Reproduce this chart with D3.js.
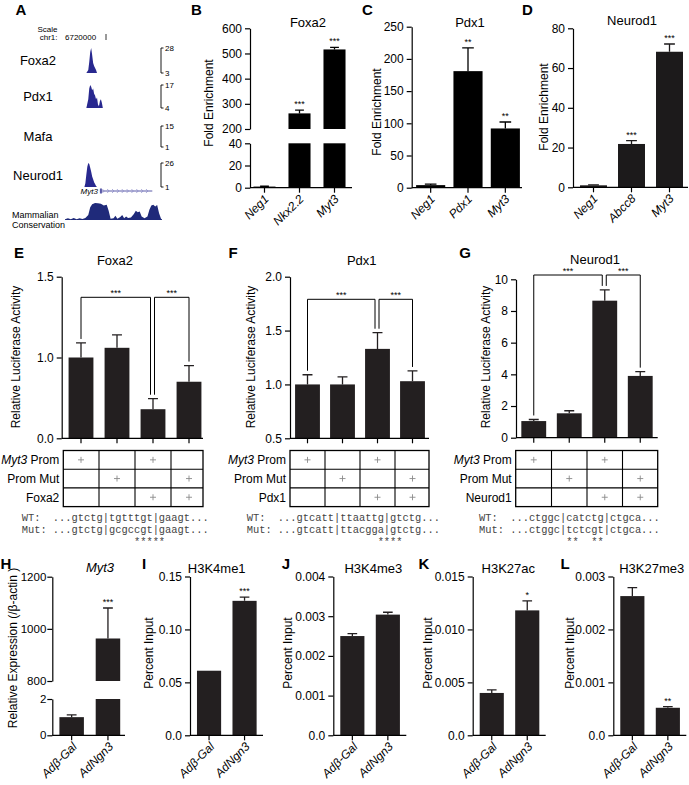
<!DOCTYPE html>
<html>
<head>
<meta charset="utf-8">
<script src="https://cdnjs.cloudflare.com/ajax/libs/d3/7.8.5/d3.min.js"></script>
<style>
  body { margin: 0; background: #fff; }
  svg { font-family: Arial, 'Liberation Sans', Helvetica, sans-serif; }
  .seq { font-family: 'Liberation Mono', 'DejaVu Sans Mono', monospace; white-space: pre; }
</style>
</head>
<body>
<svg id="fig" width="689" height="785"></svg>
<script>
// ---- A: browser tracks (position, signal) ----
const trackNames = ['Foxa2', 'Pdx1', 'Mafa', 'Neurod1'];
const trackRange = [[3, 28], [4, 17], [1, 15], [1, 26]];
const foxa2Signal = [[22, 3], [24, 6], [25, 14], [26, 24], [27, 28], [28, 21], [29, 13], [30, 10], [31, 8], [32, 6], [33, 3]];
const pdx1Signal = [[22, 4], [24, 9], [25, 15], [26, 17], [27, 16], [28, 14], [29, 15], [30, 12], [31, 11], [32, 9], [33, 10],
  [34, 6], [35, 5], [36, 8], [37, 9], [38, 7], [39, 4]];
const mafaSignal = [];
const neurod1Signal = [[20, 1], [21, 5], [22, 14], [23, 22], [24, 26], [25, 25], [26, 21], [27, 17], [28, 12], [29, 9],
  [30, 6], [31, 4], [32, 2], [33, 1]];
const conservation = [[0, 0.05], [3, 0.1], [6, 0.05], [9, 0.12], [12, 0.04], [15, 0.1], [18, 0.06], [21, 0.12], [24, 0.3],
  [26, 0.75], [28, 0.92], [31, 1.0], [34, 0.98], [37, 0.95], [40, 0.85], [43, 0.9], [45, 0.55], [47, 0.08], [50, 0.1],
  [52, 0.25], [54, 0.08], [57, 0.18], [59, 0.3], [61, 0.1], [63, 0.2], [65, 0.12], [68, 0.15], [71, 0.35], [73, 0.55],
  [75, 0.45], [77, 0.5], [79, 0.2], [82, 0.1], [85, 0.2], [87, 0.6], [89, 0.85], [91, 0.9], [93, 0.8], [95, 0.88],
  [97, 0.4], [99, 0.08], [100, 0.05]];
const myt3Gene = [36, 90];

// ---- B-D: ChIP enrichment ----
const foxa2ChipSites = ['Neg1', 'Nkx2.2', 'Myt3'];
const foxa2ChipFold = [1, 262, 516];
const foxa2ChipSem = [0.3, 13, 8];
const foxa2ChipSig = ['', '***', '***'];
const foxa2ChipTicksLow = [0, 20, 40];
const foxa2ChipTicksHigh = [200, 300, 400, 500, 600];

const pdx1ChipSites = ['Neg1', 'Pdx1', 'Myt3'];
const pdx1ChipFold = [4, 181, 92];
const pdx1ChipSem = [1.5, 36, 10];
const pdx1ChipSig = ['', '**', '**'];
const pdx1ChipTicks = [0, 50, 100, 150, 200, 250];

const neurod1ChipSites = ['Neg1', 'Abcc8', 'Myt3'];
const neurod1ChipFold = [1, 21.8, 68.2];
const neurod1ChipSem = [0.2, 1.7, 3.9];
const neurod1ChipSig = ['', '***', '***'];
const neurod1ChipTicks = [0, 20, 40, 60, 80];

// ---- E-G: luciferase ----
const lucGroups = ['WT', 'Mut', 'WT+TF', 'Mut+TF'];
const lucPromWT = [1, 0, 1, 0];
const lucPromMut = [0, 1, 0, 1];
const lucFactor = [0, 0, 1, 1];
const lucSigPairs = [[0, 2], [2, 3]];
const lucSigLabels = ['***', '***'];

const foxa2Luc = [1.0, 1.06, 0.68, 0.85];
const foxa2LucSem = [0.09, 0.08, 0.065, 0.10];
const foxa2LucTicks = [0.5, 1.0, 1.5];
const foxa2LucTickLabels = ['0.0', '1.0', '1.5'];
const foxa2Seq = ['WT:  ...gtctg|tgtttgt|gaagt...', 'Mut: ...gtctg|gcgccgt|gaagt...', '                  *****'];

const pdx1Luc = [1.0, 1.0, 1.33, 1.03];
const pdx1LucSem = [0.09, 0.07, 0.15, 0.095];
const pdx1LucTicks = [0.5, 1.0, 1.5, 2.0];
const pdx1LucTickLabels = ['0.5', '1.0', '1.5', '2.0'];
const pdx1Seq = ['WT:  ...gtcatt|ttaattg|gtctg...', 'Mut: ...gtcatt|ttacgga|gtctg...', '                     ****'];

const neurod1Luc = [1.05, 1.54, 8.65, 3.9];
const neurod1LucSem = [0.1, 0.16, 0.68, 0.27];
const neurod1LucTicks = [0, 2, 4, 6, 8, 10];
const neurod1LucTickLabels = ['0', '2', '4', '6', '8', '10'];
const neurod1Seq = ['WT:  ...ctggc|catctg|ctgca...', 'Mut: ...ctggc|tctcgt|ctgca...', '              **  **'];

// ---- H-L: AdNgn3 vs Adβ-Gal ----
const adGroups = ['Adβ-Gal', 'AdNgn3'];
const myt3Expr = [1.0, 963];
const myt3ExprSem = [0.13, 117];
const myt3ExprSig = ['', '***'];
const myt3TicksLow = [0, 2];
const myt3TicksHigh = [800, 1000, 1200];

const h3k4me1 = [0.061, 0.127];
const h3k4me1Sem = [0, 0.0035];
const h3k4me1Sig = ['', '***'];
const h3k4me1Ticks = [0, 0.05, 0.10, 0.15];
const h3k4me1TickLabels = ['0.0', '0.05', '0.10', '0.15'];

const h3k4me3 = [0.0025, 0.00304];
const h3k4me3Sem = [0.00006, 0.00006];
const h3k4me3Sig = ['', ''];
const h3k4me3Ticks = [0, 0.001, 0.002, 0.003, 0.004];
const h3k4me3TickLabels = ['0.0', '0.001', '0.002', '0.003', '0.004'];

const h3k27ac = [0.0040, 0.0118];
const h3k27acSem = [0.0003, 0.0009];
const h3k27acSig = ['', '*'];
const h3k27acTicks = [0, 0.005, 0.010, 0.015];
const h3k27acTickLabels = ['0.0', '0.005', '0.010', '0.015'];

const h3k27me3 = [0.00263, 0.00052];
const h3k27me3Sem = [0.00016, 0.00002];
const h3k27me3Sig = ['', '**'];
const h3k27me3Ticks = [0, 0.001, 0.002, 0.003];
const h3k27me3TickLabels = ['0.0', '0.001', '0.002', '0.003'];

const FONT = "Arial, 'Liberation Sans', Helvetica, sans-serif";
const svg = d3.select('#fig');

function txt(x, y, t, size, anchor) {
  return svg.append('text').attr('x', x).attr('y', y).attr('font-size', size)
    .attr('text-anchor', anchor || 'start').text(t);
}
function panelLetter(x, yc, t) {
  txt(x, yc + 5.4, t, 15, 'middle').attr('font-weight', 'bold');
}
function panelTitle(x, yc, t, italic) {
  const s = txt(x, yc + 4.6, t, 13, 'middle');
  if (italic) s.attr('font-style', 'italic');
}
function yTitle(xc, yc, t) {
  svg.append('text').attr('transform', `translate(${xc},${yc}) rotate(-90)`)
    .attr('text-anchor', 'middle').attr('dy', '0.35em').attr('font-size', 12).text(t);
}
function yAxis(xPos, scale, ticks, labels, pad, size) {
  const g = svg.append('g').attr('transform', `translate(${xPos},0)`)
    .call(d3.axisLeft(scale).tickValues(ticks).tickFormat((d, i) => labels[i])
      .tickSize(5).tickSizeOuter(0).tickPadding(pad == null ? 3 : pad));
  g.attr('font-family', FONT).attr('font-size', size || 12);
  g.selectAll('path,line').attr('stroke', '#000').attr('stroke-width', 1.2);
  g.selectAll('text').attr('fill', '#000');
}
function xAxis(x, y0, x0, x1, labels, italic, off) {
  const g = svg.append('g').attr('transform', `translate(0,${y0})`)
    .call(d3.axisBottom(x).tickSize(5).tickSizeOuter(0).tickFormat((d, i) => labels ? labels[i] : ''));
  g.select('.domain').remove();
  g.append('line').attr('x1', x0).attr('x2', x1);
  g.selectAll('line').attr('stroke', '#000').attr('stroke-width', 1.2);
  g.attr('font-family', FONT).attr('font-size', 12);
  if (labels) {
    g.selectAll('.tick text').attr('fill', '#000').attr('y', 0).attr('dy', 0)
      .attr('text-anchor', 'end').attr('font-style', italic ? 'italic' : null)
      .attr('transform', `translate(${off[0]},${off[1]}) rotate(-45)`);
  }
}
function band(cats, r, pad) {
  return d3.scaleBand().domain(cats).range(r).paddingInner(pad).paddingOuter(pad / 2);
}
function drawBars(x, segs, vals, errs, sig, color) {
  const cats = x.domain();
  segs.forEach(y => {
    const [lo, hi] = y.domain();
    svg.append('g').selectAll('rect')
      .data(vals.map((v, i) => ({ v, c: cats[i] })).filter(d => d.v > lo))
      .join('rect')
      .attr('x', d => x(d.c)).attr('width', x.bandwidth())
      .attr('y', d => y(Math.min(d.v, hi)))
      .attr('height', d => y(lo) - y(Math.min(d.v, hi)))
      .attr('fill', color);
  });
  const capW = x.bandwidth() * 0.4;
  vals.forEach((v, i) => {
    const y = segs.find(s => v > s.domain()[0] && v <= s.domain()[1]) || segs[0];
    const cx = x(cats[i]) + x.bandwidth() / 2;
    const top = y(v + errs[i]);
    if (errs[i] > 0) {
      svg.append('path').attr('d', `M${cx},${y(v)}V${top}M${cx - capW / 2},${top}H${cx + capW / 2}`)
        .attr('stroke', color).attr('stroke-width', 1.3).attr('fill', 'none');
    }
    if (sig && sig[i]) txt(cx, top - 3, sig[i], 9, 'middle');
  });
}
function sigBrackets(x, y, vals, errs, pairs, labels, levelY) {
  const cats = x.domain();
  const cx = i => x(cats[i]) + x.bandwidth() / 2;
  pairs.forEach(([a, b], k) => {
    const xa = cx(a) + (pairs.some(p => p[1] === a) ? 1.5 : 0);
    const xb = cx(b) - (pairs.some(p => p[0] === b) ? 2.5 : 0);
    const ya = y(vals[a] + errs[a]) - 4, yb = y(vals[b] + errs[b]) - 4;
    svg.append('path').attr('d', `M${xa},${ya}V${levelY}H${xb}V${yb}`)
      .attr('fill', 'none').attr('stroke', '#000').attr('stroke-width', 1);
    txt((xa + xb) / 2, levelY - 1, labels[k], 9, 'middle');
  });
}
function lucTable(x, left, right, top, factor) {
  const cats = x.domain();
  const cx = i => x(cats[i]) + x.bandwidth() / 2;
  const mids = d3.pairs(cats.map((c, i) => cx(i))).map(([a, b]) => (a + b) / 2);
  const rowH = 18.7;
  const g = svg.append('g').attr('stroke', '#000').attr('fill', 'none');
  g.append('rect').attr('x', left).attr('y', top).attr('width', right - left).attr('height', rowH * 3).attr('stroke-width', 1.3);
  mids.forEach(m => g.append('line').attr('x1', m).attr('x2', m).attr('y1', top).attr('y2', top + rowH * 3).attr('stroke-width', 1.1));
  [1, 2].forEach(r => g.append('line').attr('x1', left).attr('x2', right)
    .attr('y1', top + rowH * r).attr('y2', top + rowH * r).attr('stroke-width', 1.1));
  [lucPromWT, lucPromMut, lucFactor].forEach((row, r) => {
    const yc = top + rowH * (r + 0.5);
    row.forEach((v, c) => {
      if (v) svg.append('path').attr('d', `M${cx(c) - 3},${yc}H${cx(c) + 3}M${cx(c)},${yc - 3}V${yc + 3}`)
        .attr('stroke', '#8a8a8a').attr('stroke-width', 0.9);
    });
  });
  const l0 = txt(left - 4, top + rowH * 0.5 + 4.3, '', 12, 'end');
  l0.append('tspan').attr('font-style', 'italic').text('Myt3');
  l0.append('tspan').text(' Prom');
  txt(left - 4, top + rowH * 1.5 + 4.3, 'Prom Mut', 12, 'end');
  txt(left - 4, top + rowH * 2.5 + 4.3, factor, 12, 'end');
}
function seqLines(x, lines) {
  [521, 533, 545].forEach((y, i) => {
    svg.append('text').attr('class', 'seq').attr('x', x).attr('y', y)
      .attr('font-size', 10.4).attr('fill', '#444').text(lines[i]);
  });
}

// ================= A =================
panelLetter(21, 10, 'A');
txt(57.5, 32, 'Scale', 8, 'end');
txt(57.5, 40, 'chr1:', 8, 'end');
txt(65, 40, '6720000', 8);
svg.append('line').attr('x1', 106).attr('x2', 106).attr('y1', 34).attr('y2', 40).attr('stroke', '#000').attr('stroke-width', 0.8);

const gx = d3.scaleLinear().domain([0, 100]).range([65, 162]);
const trackBox = [[48, 73], [85, 108], [126, 147], [163, 187]];
const signals = [foxa2Signal, pdx1Signal, mafaSignal, neurod1Signal];
trackNames.forEach((name, i) => {
  const [top, bot] = trackBox[i];
  const [lo, hi] = trackRange[i];
  const ty = d3.scaleLinear().domain([lo, hi]).range([bot, top]).clamp(true);
  txt(38, (top + bot) / 2 + 4.5, name, 13, 'middle');
  if (signals[i].length) {
    svg.append('path').datum(signals[i])
      .attr('d', d3.area().x(d => gx(d[0])).y0(bot).y1(d => ty(d[1])))
      .attr('fill', '#28288f');
  }
  svg.append('path').attr('d', `M163.5,${top}H161V${bot}H163.5`)
    .attr('fill', 'none').attr('stroke', '#000').attr('stroke-width', 0.9);
  txt(165, top + 3, hi, 8);
  txt(165, bot + 3, lo, 8);
});
// Myt3 gene
const geneY = 191;
txt(gx(myt3Gene[0]) - 2, geneY + 3, 'Myt3', 8, 'end').attr('font-style', 'italic');
svg.append('line').attr('x1', gx(myt3Gene[0])).attr('x2', gx(myt3Gene[1]))
  .attr('y1', geneY).attr('y2', geneY).attr('stroke', '#5a5aa8').attr('stroke-width', 1);
svg.append('rect').attr('x', gx(myt3Gene[0])).attr('y', geneY - 2.5).attr('width', 2).attr('height', 5).attr('fill', '#5a5aa8');
svg.append('g').selectAll('path')
  .data(d3.range(myt3Gene[0] + 4, myt3Gene[1], 5))
  .join('path')
  .attr('d', d => `M${gx(d) - 1.5},${geneY - 2}L${gx(d) + 0.5},${geneY}L${gx(d) - 1.5},${geneY + 2}`)
  .attr('fill', 'none').attr('stroke', '#8a8ac8').attr('stroke-width', 0.7);
// conservation
const cy = d3.scaleLinear().domain([0, 1]).range([220, 203]);
svg.append('path').datum(conservation)
  .attr('d', d3.area().x(d => gx(d[0])).y0(220).y1(d => cy(d[1])))
  .attr('fill', '#1f2a7a');
txt(12, 217.7, 'Mammalian', 9);
txt(12, 228.2, 'Conservation', 9);

// ================= B =================
panelLetter(196.5, 10, 'B');
panelTitle(308, 22, 'Foxa2');
yTitle(209, 103, 'Fold Enrichment');
{
  const x = band(foxa2ChipSites, [247, 352], 0.37);
  const yLow = d3.scaleLinear().domain([0, 40]).range([187.7, 143.3]);
  const yHigh = d3.scaleLinear().domain([200, 600]).range([129, 28.3]);
  drawBars(x, [yLow, yHigh], foxa2ChipFold, foxa2ChipSem, foxa2ChipSig, '#000');
  yAxis(250, yLow, foxa2ChipTicksLow, foxa2ChipTicksLow.map(String));
  yAxis(250, yHigh, foxa2ChipTicksHigh, foxa2ChipTicksHigh.map(String));
  xAxis(x, 187.7, 250, 352, foxa2ChipSites, true, [5, 12]);
}

// ================= C =================
panelLetter(367.5, 10, 'C');
panelTitle(470, 22, 'Pdx1');
yTitle(377, 112, 'Fold Enrichment');
{
  const x = band(pdx1ChipSites, [412, 524], 0.22);
  const y = d3.scaleLinear().domain([0, 250]).range([187.7, 26.7]);
  drawBars(x, [y], pdx1ChipFold, pdx1ChipSem, pdx1ChipSig, '#000');
  yAxis(411.7, y, pdx1ChipTicks, pdx1ChipTicks.map(String));
  xAxis(x, 187.7, 411.7, 522, pdx1ChipSites, true, [5, 12]);
}

// ================= D =================
panelLetter(527.5, 10, 'D');
panelTitle(632, 20, 'Neurod1');
yTitle(544, 107, 'Fold Enrichment');
{
  const x = band(neurod1ChipSites, [574.5, 688.5], 0.29);
  const y = d3.scaleLinear().domain([0, 80]).range([187.3, 28.3]);
  drawBars(x, [y], neurod1ChipFold, neurod1ChipSem, neurod1ChipSig, '#1c1a1b');
  yAxis(573, y, neurod1ChipTicks, neurod1ChipTicks.map(String));
  xAxis(x, 187.3, 573, 688, neurod1ChipSites, true, [5, 12]);
}

// ================= E =================
panelLetter(19, 253, 'E');
panelTitle(115, 260, 'Foxa2');
yTitle(16, 357, 'Relative Luciferase Activity');
{
  const x = band(lucGroups, [63, 207], 0.31);
  const y = d3.scaleLinear().domain([0.5, 1.5]).range([438.3, 276.7]);
  drawBars(x, [y], foxa2Luc, foxa2LucSem, null, '#231f20');
  yAxis(61.7, y, foxa2LucTicks, foxa2LucTickLabels);
  xAxis(x, 438.3, 61.7, 203, null);
  sigBrackets(x, y, foxa2Luc, foxa2LucSem, lucSigPairs, lucSigLabels, 297.3);
  lucTable(x, 63.3, 203, 450.5, 'Foxa2');
  seqLines(21.7, foxa2Seq);
}

// ================= F =================
panelLetter(233, 253, 'F');
panelTitle(361.7, 260, 'Pdx1');
yTitle(251, 357, 'Relative Luciferase Activity');
{
  const x = band(lucGroups, [290, 430], 0.29);
  const y = d3.scaleLinear().domain([0.5, 2.0]).range([438.3, 276.7]);
  drawBars(x, [y], pdx1Luc, pdx1LucSem, null, '#231f20');
  yAxis(290, y, pdx1LucTicks, pdx1LucTickLabels);
  xAxis(x, 438.3, 290, 429, null);
  sigBrackets(x, y, pdx1Luc, pdx1LucSem, lucSigPairs, lucSigLabels, 299.3);
  lucTable(x, 290, 429, 450.5, 'Pdx1');
  seqLines(246.7, pdx1Seq);
}

// ================= G =================
panelLetter(465, 253, 'G');
panelTitle(595, 259, 'Neurod1');
yTitle(486, 357, 'Relative Luciferase Activity');
{
  const x = band(lucGroups, [516, 658], 0.3);
  const y = d3.scaleLinear().domain([0, 10]).range([437.7, 279.3]);
  drawBars(x, [y], neurod1Luc, neurod1LucSem, null, '#231f20');
  yAxis(516, y, neurod1LucTicks, neurod1LucTickLabels);
  xAxis(x, 437.7, 516, 657.7, null);
  sigBrackets(x, y, neurod1Luc, neurod1LucSem, lucSigPairs, lucSigLabels, 275);
  lucTable(x, 515.7, 657.7, 450.5, 'Neurod1');
  seqLines(479, neurod1Seq);
}

// ================= H =================
panelLetter(6, 564, 'H');
panelTitle(100, 567, 'Myt3', true);
yTitle(13, 648, 'Relative Expression (/β-actin )');
{
  const x = band(adGroups, [53.5, 126.1], 0.325);
  const yLow = d3.scaleLinear().domain([0, 2]).range([735.3, 699]);
  const yHigh = d3.scaleLinear().domain([800, 1200]).range([681, 576.7]);
  drawBars(x, [yLow, yHigh], myt3Expr, myt3ExprSem, myt3ExprSig, '#231f20');
  yAxis(52.3, yLow, myt3TicksLow, myt3TicksLow.map(String), 1, 11.5);
  yAxis(52.3, yHigh, myt3TicksHigh, myt3TicksHigh.map(String), 1, 11.5);
  xAxis(x, 735.3, 52.3, 125, adGroups, true, [6, 12]);
}

// ================= I-L =================
const histPanels = [
  { L: 'I', lx: 144, title: 'H3K4me1', tx: 216.7, ax: 190, vals: h3k4me1, sem: h3k4me1Sem, sig: h3k4me1Sig, ticks: h3k4me1Ticks, labels: h3k4me1TickLabels, ylx: 149 },
  { L: 'J', lx: 286, title: 'H3K4me3', tx: 373.3, ax: 333.3, vals: h3k4me3, sem: h3k4me3Sem, sig: h3k4me3Sig, ticks: h3k4me3Ticks, labels: h3k4me3TickLabels, ylx: 288 },
  { L: 'K', lx: 424, title: 'H3K27ac', tx: 508.3, ax: 472.7, vals: h3k27ac, sem: h3k27acSem, sig: h3k27acSig, ticks: h3k27acTicks, labels: h3k27acTickLabels, ylx: 428 },
  { L: 'L', lx: 565, title: 'H3K27me3', tx: 651.7, ax: 613.3, vals: h3k27me3, sem: h3k27me3Sem, sig: h3k27me3Sig, ticks: h3k27me3Ticks, labels: h3k27me3TickLabels, ylx: 570 }
];
histPanels.forEach(p => {
  panelLetter(p.lx, 564, p.L);
  panelTitle(p.tx, 568, p.title);
  yTitle(p.ylx, 653, 'Percent Input');
  const x = band(adGroups, [p.ax + 1.3, p.ax + 72.3], 0.32);
  const y = d3.scaleLinear().domain([0, d3.max(p.ticks)]).range([735.3, 576.5]);
  drawBars(x, [y], p.vals, p.sem, p.sig, '#231f20');
  yAxis(p.ax, y, p.ticks, p.labels);
  xAxis(x, 735.3, p.ax, p.ax + 73, adGroups, true, [6, 12]);
});
</script>
</body>
</html>
